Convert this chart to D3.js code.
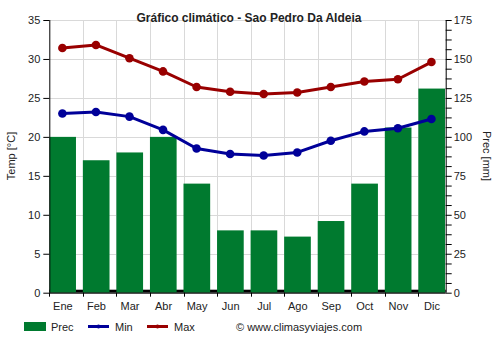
<!DOCTYPE html>
<html><head><meta charset="utf-8">
<script src="https://cdn.jsdelivr.net/npm/d3@7"></script>
<style>
html,body{margin:0;padding:0;background:#fff;}
svg{display:block;font-family:"Liberation Sans",Arial,sans-serif;}
</style></head>
<body>
<svg id="c" width="500" height="350"></svg>
<script>
const months = ["Ene","Feb","Mar","Abr","May","Jun","Jul","Ago","Sep","Oct","Nov","Dic"];
const prec = [100, 85, 90, 100, 70, 40, 40, 36, 46, 70, 106, 131];
const tMin = [23.0, 23.2, 22.6, 20.9, 18.5, 17.8, 17.6, 18.0, 19.5, 20.7, 21.1, 22.3];
const tMax = [31.4, 31.8, 30.1, 28.4, 26.4, 25.8, 25.5, 25.7, 26.4, 27.1, 27.4, 29.6];
const tempTicks = [0, 5, 10, 15, 20, 25, 30, 35];
const precTicks = [0, 25, 50, 75, 100, 125, 150, 175];

const svg = d3.select("#c");
const L = 49.3, R = 445.7, T = 20, B = 292.7;
const step = 33.55;
const x = d3.scaleBand().domain(months).range([L, L + step * 12]).paddingInner(0).paddingOuter(0);
const bw = x.bandwidth();
const barW = bw * 0.795;
const cx = m => x(m) + bw * 0.39;
const yT = d3.scaleLinear().domain([0, 35]).range([B, T]);
const yP = d3.scaleLinear().domain([0, 175]).range([B, T]);

const grid = svg.append("g").attr("stroke", "#d9d9d9").attr("stroke-width", 1);
tempTicks.filter(t => t > 0).forEach(t => {
  grid.append("line").attr("x1", L).attr("x2", R).attr("y1", Math.round(yT(t)) + 0.5).attr("y2", Math.round(yT(t)) + 0.5);
});
months.slice(1).forEach(m => {
  grid.append("line").attr("x1", Math.round(x(m)) + 0.5).attr("x2", Math.round(x(m)) + 0.5).attr("y1", T).attr("y2", B);
});

// baseline strip
svg.append("rect").attr("x", L).attr("y", B - 3).attr("width", R - L).attr("height", 3).attr("fill", "#000");

svg.append("defs").append("clipPath").attr("id", "pc").append("rect").attr("x", L).attr("y", T - 10).attr("width", R - L).attr("height", B - T + 10);

svg.append("g").attr("clip-path", "url(#pc)").selectAll("rect.bar").data(months).join("rect")
  .attr("class", "bar")
  .attr("x", m => x(m))
  .attr("width", barW)
  .attr("y", (m, i) => yP(prec[i]))
  .attr("height", (m, i) => B - yP(prec[i]))
  .attr("fill", "#007a2f");

function series(vals, color) {
  const line = d3.line().x((d, i) => cx(months[i])).y(d => yT(d));
  svg.append("path").datum(vals).attr("d", line).attr("fill", "none").attr("stroke", color).attr("stroke-width", 3).attr("stroke-linejoin", "round");
  svg.append("g").selectAll("circle").data(vals).join("circle")
    .attr("cx", (d, i) => cx(months[i])).attr("cy", d => yT(d)).attr("r", 4.3).attr("fill", color);
}
series(tMin, "#000099");
series(tMax, "#990000");

const txt = "#222";
// left axis
const ax = svg.append("g").attr("transform", `translate(${L},0)`)
  .call(d3.axisLeft(yT).tickValues(tempTicks).tickSize(6).tickPadding(3).tickFormat(d3.format("d")));
ax.selectAll("text").attr("font-size", 11).attr("fill", txt).attr("font-family", "Liberation Sans, Arial, sans-serif");
ax.selectAll("line,path").attr("stroke", "#000");
ax.select("path").attr("d", `M0.5,${T}V${B}`);

// right axis
const minor = d3.range(0, 175.01, 6.25);
const ar = svg.append("g").attr("transform", `translate(${R},0)`)
  .call(d3.axisRight(yP).tickValues(minor).tickSize(6).tickPadding(2).tickFormat(d => d % 25 === 0 ? d3.format("d")(d) : ""));
ar.selectAll("text").attr("font-size", 11).attr("fill", txt).attr("font-family", "Liberation Sans, Arial, sans-serif");
ar.selectAll("line,path").attr("stroke", "#000");
ar.select("path").attr("d", `M0.5,${T}V${B}`);

// bottom axis
const xp = d3.scalePoint().domain(months).range([cx(months[0]), cx(months[11])]);
const ab = svg.append("g").attr("transform", `translate(0,${B})`)
  .call(d3.axisBottom(xp).tickSize(0).tickPadding(10));
ab.select("path").remove();
ab.selectAll("text").attr("font-size", 11).attr("fill", txt).attr("font-family", "Liberation Sans, Arial, sans-serif");
svg.append("line").attr("x1", L).attr("x2", R).attr("y1", B + 0.5).attr("y2", B + 0.5).attr("stroke", "#000");
svg.append("g").selectAll("line").data(months).join("line")
  .attr("x1", m => Math.round(x(m)) + 0.5).attr("x2", m => Math.round(x(m)) + 0.5)
  .attr("y1", B).attr("y2", B + 4).attr("stroke", "#000");

// titles
svg.append("text").attr("x", 249).attr("y", 22).attr("text-anchor", "middle")
  .attr("font-size", 12).attr("font-weight", "bold").attr("fill", txt).text("Gráfico climático - Sao Pedro Da Aldeia");
svg.append("text").attr("transform", "translate(15,156) rotate(-90)").attr("text-anchor", "middle")
  .attr("font-size", 11).attr("fill", txt).text("Temp [°C]");
svg.append("text").attr("transform", "translate(483,156) rotate(90)").attr("text-anchor", "middle")
  .attr("font-size", 11).attr("fill", txt).text("Prec [mm]");

// legend
const lg = svg.append("g").attr("font-size", 11).attr("fill", txt);
lg.append("rect").attr("x", 24).attr("y", 322).attr("width", 22).attr("height", 9).attr("fill", "#007a2f");
lg.append("text").attr("x", 51).attr("y", 330.5).text("Prec");
[["Min", "#000099", 88], ["Max", "#990000", 147]].forEach(([n, c, x0]) => {
  lg.append("line").attr("x1", x0).attr("x2", x0 + 21).attr("y1", 326.5).attr("y2", 326.5).attr("stroke", c).attr("stroke-width", 3);
  lg.append("circle").attr("cx", x0 + 10.5).attr("cy", 326.5).attr("r", 2).attr("fill", c);
  lg.append("text").attr("x", x0 + 27).attr("y", 330.5).text(n);
});
lg.append("text").attr("x", 236).attr("y", 330.5).text("© www.climasyviajes.com");
</script>
</body></html>
